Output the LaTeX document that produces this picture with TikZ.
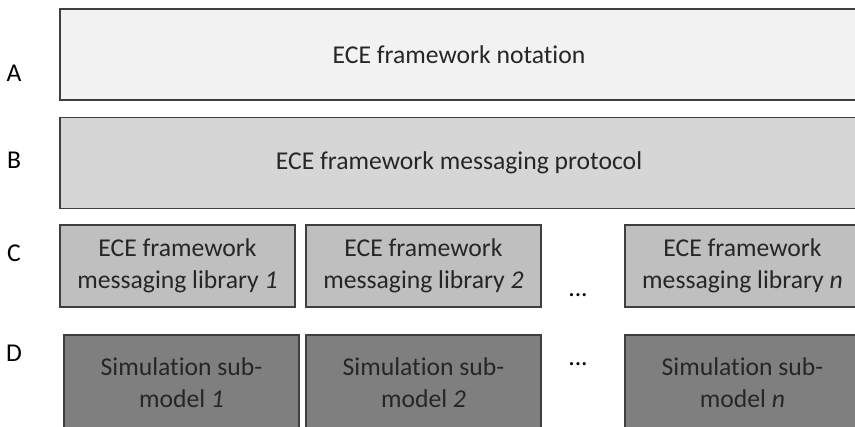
\documentclass[tikz,border=0pt]{standalone}
\usepackage{fontspec}
\setmainfont[Ligatures=NoCommon]{Carlito}
\usetikzlibrary{positioning}

\definecolor{fillA}{HTML}{F2F2F2}
\definecolor{fillB}{HTML}{D6D6D6}
\definecolor{fillC}{HTML}{BFBFBF}
\definecolor{fillD}{HTML}{7F7F7F}
\definecolor{edge}{HTML}{3F3F3F}

\tikzset{
    layer/.style={rectangle,draw=edge,line width=0.8pt,align=center,text=black!85,font=\fontsize{14.6}{18.5}\selectfont,inner sep=0pt},
    wide/.style={layer,minimum width=15.96cm,minimum height=1.82cm},
    lib/.style={layer,fill=fillC,minimum width=4.7cm,minimum height=1.64cm},
    model/.style={layer,fill=fillD,minimum width=4.7cm,minimum height=1.9cm},
    tag/.style={font=\fontsize{14.6}{18}\selectfont},
}

\begin{document}
\begin{tikzpicture}[x=0.02cm,y=-0.02cm]
        \useasboundingbox (0,0) rectangle (855,426);
        \clip (0,0) rectangle (855,426);

        \node[tag] (tA) at (14,73) {A};
        \node[tag] (tB) at (14,160) {B};
        \node[tag] (tC) at (14,253) {C};
        \node[tag] (tD) at (14,353) {D};

        \node[wide,fill=fillA] (notation) at (459,54.5) {ECE framework notation};
        \node[wide,fill=fillB] (protocol) at (459,163) {ECE framework messaging protocol};

        \node[lib] (lib1) at (177.5,266) {ECE framework\\messaging library \textit{1}};
        \node[lib] (lib2) at (423.5,266) {ECE framework\\messaging library \textit{2}};
        \node[lib] (libn) at (742.5,266) {ECE framework\\messaging library \textit{n}};

        \node[model] (sub1) at (181.5,382.5) {Simulation sub-\\model \textit{1}};
        \node[model] (sub2) at (423.5,382.5) {Simulation sub-\\model \textit{2}};
        \node[model] (subn) at (742.5,382.5) {Simulation sub-\\model \textit{n}};

        \node[tag] (dotsC) at (578,295) {...};
        \node[tag] (dotsD) at (578,364) {...};

    \end{tikzpicture}
\end{document}
